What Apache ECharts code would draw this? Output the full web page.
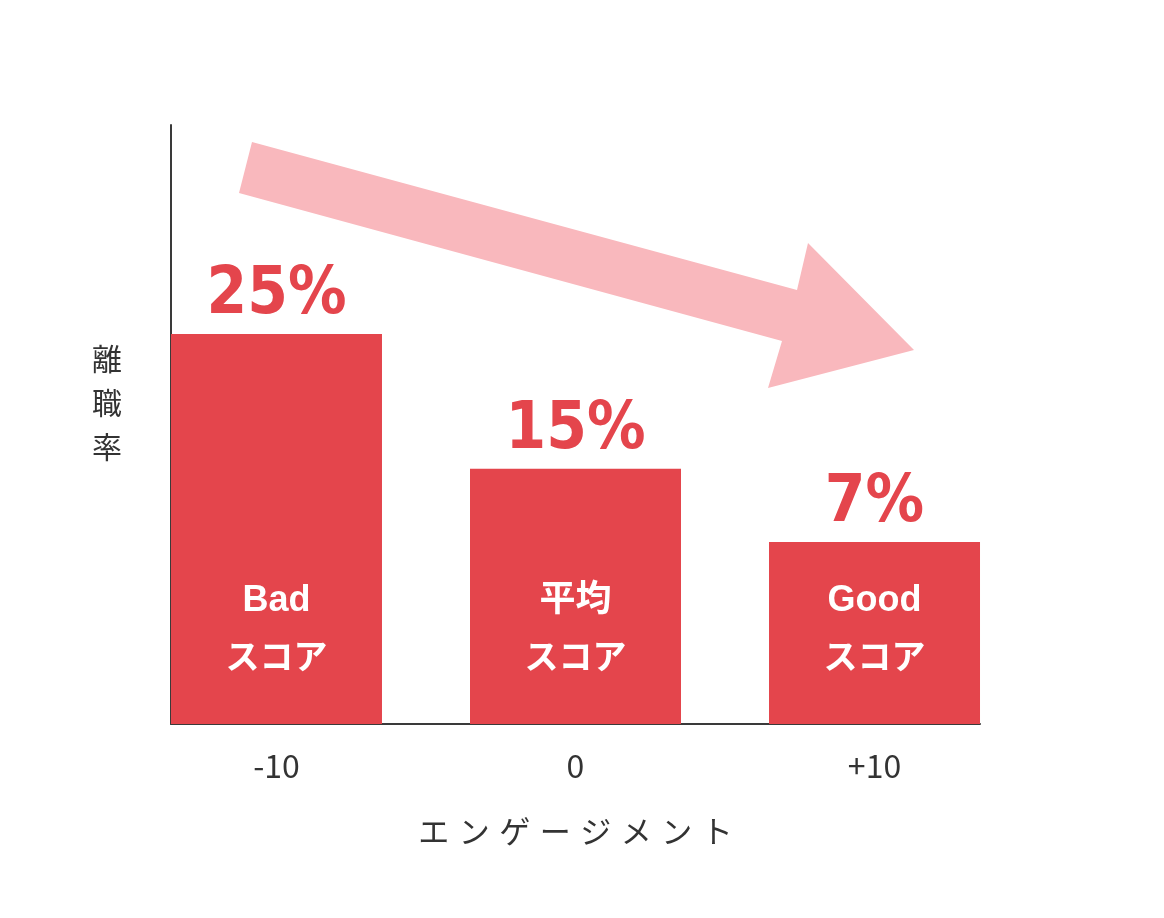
<!DOCTYPE html>
<html>
<head>
<meta charset="utf-8">
<script src="https://cdn.jsdelivr.net/npm/echarts@6/dist/echarts.min.js"></script>
<style>html,body{margin:0;padding:0;background:#fff;}#c{width:1164px;height:918px;}</style>
</head>
<body>
<div id="c"></div>
<script>
// Data
var xPositions = [-10, 0, 10];
var tickLabels = ['-10', '0', '+10'];
var barHeights = [65.1, 42.6, 30.4];      // bar heights (axis 0..100)
var rateLabels = ['25%', '15%', '7%'];
var scoreTop = ['Bad', '平均', 'Good'];
var scoreBottom = ['スコア', 'スコア', 'スコア'];
var yAxisName = '離\n職\n率\n ';
var xAxisName = 'エンゲージメント';

var RED = '#E4454C';
var PINK = '#F9B8BD';
var GRAY = '#333333';

var chart = echarts.init(document.getElementById('c'), null, {renderer: 'canvas'});

var barData = xPositions.map(function (x, i) { return [x, barHeights[i]]; });

var xNameRich = xAxisName.split('').map(function (ch) { return '{c|' + ch + '}'; }).join('');

chart.setOption({
  animation: false,
  backgroundColor: '#ffffff',
  grid: {left: 171, right: 184, top: 125, bottom: 194},
  xAxis: {
    type: 'value',
    min: -13.528, max: 13.528,
    splitLine: {show: false},
    axisTick: {show: false},
    axisLine: {show: true, onZero: false, lineStyle: {color: '#3a3a3a', width: 2}},
    axisLabel: {
      show: true,
      customValues: xPositions,
      formatter: function (v) {
        var i = xPositions.indexOf(v);
        return i >= 0 ? tickLabels[i] : '';
      },
      color: GRAY, fontSize: 32, margin: 26,
      fontFamily: 'Noto Sans CJK JP'
    },
    name: xNameRich,
    nameLocation: 'middle',
    nameGap: 92,
    nameTextStyle: {
      color: GRAY, fontSize: 31, fontFamily: 'Noto Sans CJK JP',
      rich: {c: {width: 40.5, align: 'center', color: GRAY, fontSize: 31, fontFamily: 'Noto Sans CJK JP'}}
    }
  },
  yAxis: {
    type: 'value',
    min: 0, max: 100,
    splitLine: {show: false},
    axisTick: {show: false},
    axisLabel: {show: false},
    axisLine: {show: true, onZero: false, lineStyle: {color: '#3a3a3a', width: 2}},
    name: yAxisName,
    nameLocation: 'middle',
    nameRotate: 0,
    nameGap: 49,
    nameTextStyle: {color: GRAY, fontSize: 30, lineHeight: 44, fontFamily: 'Noto Sans CJK JP'}
  },
  series: [
    {
      type: 'bar',
      data: barData,
      barWidth: 211,
      itemStyle: {color: RED},
      label: {
        show: true,
        position: 'insideBottom',
        distance: 40,
        formatter: function (p) { return '{a|' + scoreTop[p.dataIndex] + '}\n{b|' + scoreBottom[p.dataIndex] + '}'; },
        rich: {
          a: {color: '#fff', fontSize: 36, lineHeight: 55, fontWeight: 'bold', fontFamily: 'Liberation Sans, Noto Sans CJK JP'},
          b: {color: '#fff', fontSize: 34, lineHeight: 55, fontWeight: 'bold', fontFamily: 'Noto Sans CJK JP'}
        }
      },
      z: 3
    },
    {
      type: 'bar',
      data: barData,
      barWidth: 211,
      barGap: '-100%',
      silent: true,
      itemStyle: {color: 'rgba(0,0,0,0)'},
      label: {
        show: true,
        position: 'top',
        distance: 5,
        formatter: function (p) { return rateLabels[p.dataIndex]; },
        color: RED,
        fontSize: 65,
        fontWeight: 'bold',
        fontFamily: 'DejaVu Sans Condensed, DejaVu Sans'
      },
      z: 4
    }
  ],
  graphic: [
    {
      type: 'polygon',
      z: 1,
      shape: {
        points: [[252, 142], [797, 290], [808, 243], [914, 350], [768, 388], [782, 341], [239, 193]]
      },
      style: {fill: PINK}
    }
  ]
});
</script>
</body>
</html>
